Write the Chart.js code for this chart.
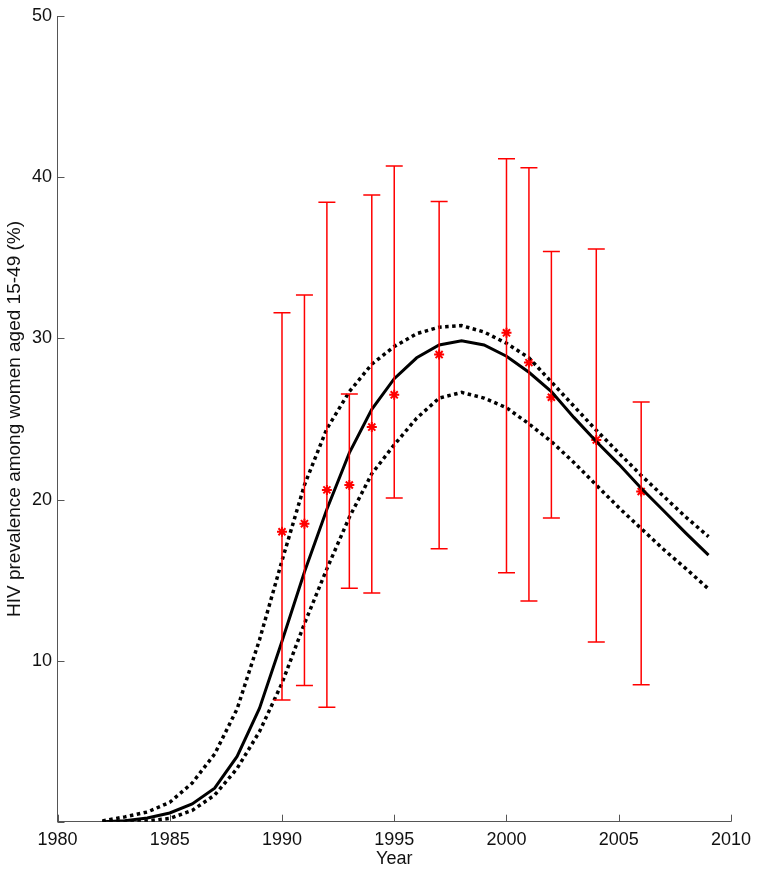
<!DOCTYPE html>
<html>
<head>
<meta charset="utf-8">
<script src="https://cdn.jsdelivr.net/npm/chart.js@4"></script>
<style>
  html, body { margin: 0; padding: 0; background: #fff; }
  #wrap { width: 759px; height: 874px; }
</style>
</head>
<body>
<div id="wrap"><canvas id="myChart" width="759" height="874"></canvas></div>
<script>
// model output, one value per year
const years = [1982, 1983, 1984, 1985, 1986, 1987, 1988, 1989, 1990, 1991, 1992, 1993, 1994, 1995,
  1996, 1997, 1998, 1999, 2000, 2001, 2002, 2003, 2004, 2005, 2006, 2007, 2008, 2009]
const central = [0.0, 0.06, 0.23, 0.54, 1.1, 2.08, 4.05, 7.05, 11.2, 15.5, 19.4, 22.9, 25.6, 27.5,
  28.8, 29.6, 29.85, 29.6, 28.9, 27.9, 26.7, 25.1, 23.6, 22.2, 20.7, 19.3, 17.9, 16.55]
const upperBound = [0.05, 0.3, 0.6, 1.2, 2.4, 4.2, 7.0, 11.3, 16.2, 20.9, 24.4, 26.7, 28.4, 29.5,
  30.3, 30.7, 30.8, 30.4, 29.7, 28.8, 27.3, 25.8, 24.3, 22.9, 21.5, 20.2, 18.9, 17.7]
const lowerBound = [0.0, 0.02, 0.05, 0.2, 0.7, 1.65, 3.3, 5.6, 8.6, 12.3, 15.7, 18.9, 21.6, 23.4,
  25.05, 26.3, 26.65, 26.3, 25.7, 24.7, 23.6, 22.3, 20.9, 19.5, 18.2, 16.9, 15.7, 14.45]

// survey observations with their intervals
const surveyYears = [1990, 1991, 1992, 1993, 1994, 1995, 1997, 2000, 2001, 2002, 2004, 2006]
const surveyValues = [18.0, 18.5, 20.6, 20.9, 24.5, 26.5, 29.0, 30.35, 28.5, 26.35, 23.7, 20.5]
const surveyLow = [7.55, 8.45, 7.1, 14.5, 14.2, 20.1, 16.95, 15.45, 13.7, 18.85, 11.15, 8.5]
const surveyHigh = [31.6, 32.7, 38.45, 26.55, 38.9, 40.7, 38.5, 41.15, 40.6, 35.4, 35.55, 26.05]

const xTicks = [1980, 1985, 1990, 1995, 2000, 2005, 2010]
const yTicks = [0, 10, 20, 30, 40, 50]

const FONT = "'Liberation Sans', Arial, Helvetica, sans-serif"
const RED = 'rgb(255,0,0)'
const AXIS = '#555'

const toPoints = (xs, ys) => xs.map((x, i) => ({ x: x, y: ys[i] }))

// error bars, drawn through the chart scales
const errorBars = {
  id: 'errorBars',
  afterDatasetsDraw(chart) {
    const { ctx, scales: { x, y } } = chart
    ctx.save()
    ctx.strokeStyle = RED
    ctx.lineWidth = 1.5
    surveyYears.forEach((yr, i) => {
      const px = x.getPixelForValue(yr)
      const top = y.getPixelForValue(surveyHigh[i])
      const bot = y.getPixelForValue(surveyLow[i])
      ctx.beginPath()
      ctx.moveTo(px, top); ctx.lineTo(px, bot)
      ctx.moveTo(px - 8.5, top); ctx.lineTo(px + 8.5, top)
      ctx.moveTo(px - 8.5, bot); ctx.lineTo(px + 8.5, bot)
      ctx.stroke()
    })
    ctx.restore()
  }
}

// inward tick marks like the original
const innerTicks = {
  id: 'innerTicks',
  afterDraw(chart) {
    const { ctx, scales: { x, y }, chartArea } = chart
    ctx.save()
    ctx.strokeStyle = AXIS
    ctx.lineWidth = 1
    ctx.beginPath()
    xTicks.forEach(v => {
      const px = Math.round(x.getPixelForValue(v)) + 0.5
      ctx.moveTo(px, chartArea.bottom); ctx.lineTo(px, chartArea.bottom - 7)
    })
    yTicks.forEach(v => {
      const py = Math.round(y.getPixelForValue(v)) + 0.5
      ctx.moveTo(chartArea.left, py); ctx.lineTo(chartArea.left + 7, py)
    })
    ctx.stroke()
    ctx.restore()
  }
}

new Chart(document.getElementById('myChart').getContext('2d'), {
  type: 'line',
  data: {
    datasets: [
      {
        data: toPoints(years, upperBound),
        borderColor: 'black',
        borderWidth: 3.5,
        borderDash: [3.5, 3.5],
        pointRadius: 0,
        tension: 0
      },
      {
        data: toPoints(years, lowerBound),
        borderColor: 'black',
        borderWidth: 3.5,
        borderDash: [3.5, 3.5],
        pointRadius: 0,
        tension: 0
      },
      {
        data: toPoints(years, central),
        borderColor: 'black',
        borderWidth: 3,
        pointRadius: 0,
        tension: 0
      },
      {
        type: 'scatter',
        data: toPoints(surveyYears, surveyValues),
        showLine: false,
        pointStyle: 'star',
        pointRadius: 5,
        borderColor: RED,
        backgroundColor: RED,
        borderWidth: 2
      }
    ]
  },
  options: {
    responsive: false,
    animation: false,
    layout: { padding: { top: 13, right: 27, left: 0, bottom: 0 } },
    plugins: {
      legend: { display: false },
      tooltip: { enabled: false },
      title: { display: false }
    },
    scales: {
      x: {
        type: 'linear',
        min: 1980,
        max: 2010,
        afterFit: (scale) => { scale.height = 52.3 },
        afterBuildTicks: (scale) => { scale.ticks = xTicks.map(v => ({ value: v })) },
        grid: { drawOnChartArea: false, drawTicks: false },
        border: { color: AXIS, width: 1 },
        ticks: {
          color: '#111',
          padding: 8,
          maxRotation: 0,
          font: { family: FONT, size: 18 },
          callback: (v) => String(v)
        },
        title: {
          display: true,
          text: 'Year',
          color: '#111',
          padding: { top: 0, bottom: 4 },
          font: { family: FONT, size: 18 }
        }
      },
      y: {
        min: 0,
        max: 50,
        afterFit: (scale) => { scale.width = 57.5 },
        afterBuildTicks: (scale) => { scale.ticks = yTicks.map(v => ({ value: v })) },
        grid: { drawOnChartArea: false, drawTicks: false },
        border: { color: AXIS, width: 1 },
        ticks: {
          color: '#111',
          padding: 5.5,
          font: { family: FONT, size: 18 },
          callback: (v) => (v === 0 ? '' : String(v))
        },
        title: {
          display: true,
          text: 'HIV prevalence among women aged 15-49 (%)',
          color: '#111',
          padding: { top: 3, bottom: 0 },
          font: { family: FONT, size: 19 }
        }
      }
    }
  },
  plugins: [errorBars, innerTicks]
})
</script>
</body>
</html>
